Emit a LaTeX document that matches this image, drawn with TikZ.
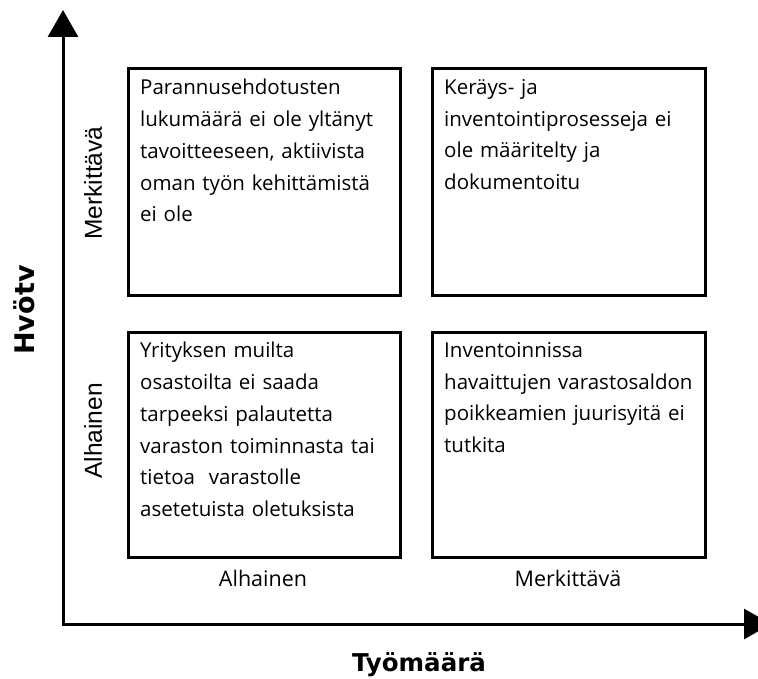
\documentclass[tikz,border=0pt]{standalone}
\usepackage{fontspec}
\setmainfont{Open Sans}
\newfontfamily\labelfont{Liberation Sans}
\newfontfamily\axisfont{DejaVu Sans}
\usetikzlibrary{arrows.meta}
\begin{document}
\begin{tikzpicture}[x=1pt,y=-1pt,
  axisline/.style={line width=3pt,-{Triangle[length=27pt,width=30pt]}},
  quad/.style={draw,line width=3pt},
  quadtext/.style={anchor=north west,align=left,text width=262pt,inner sep=0pt,
    font=\fontsize{20.5}{31.8}\selectfont},
  ticklabel/.style={inner sep=0pt,font=\fontsize{21.5}{24}\selectfont},
  vlabel/.style={inner sep=0pt,rotate=90,font=\labelfont\fontsize{24.5}{28}\selectfont},
  axislabel/.style={inner sep=0pt,font=\axisfont\bfseries\fontsize{24.5}{28}\selectfont}]
  \useasboundingbox (0,0) rectangle (758,679);
  \clip (0,0) rectangle (758,679);

  % axes
  \coordinate (O) at (63,624);
  \coordinate (ytip) at (63,10);
  \coordinate (xtip) at (771,624);
  \draw[axisline] (O) -- (ytip);
  \draw[axisline] ([xshift=-1.5pt]O) -- (xtip);

  % quadrants
  \draw[quad] (128,69) rectangle (400,295);
  \draw[quad] (432,69) rectangle (705,295);
  \draw[quad] (128,332) rectangle (400,557);
  \draw[quad] (432,332) rectangle (705,557);

  \node[quadtext] (tl) at (140,79) {Parannusehdotusten\\lukumäärä ei ole yltänyt\\tavoitteeseen, aktiivista\\oman työn kehittämistä\\ei ole};
  \node[quadtext] (tr) at (444,79) {Keräys- ja\\inventointiprosesseja ei\\ole määritelty ja\\dokumentoitu};
  \node[quadtext] (bl) at (140,342) {Yrityksen muilta\\osastoilta ei saada\\tarpeeksi palautetta\\varaston toiminnasta tai\\tietoa \ varastolle\\asetetuista oletuksista};
  \node[quadtext] (br) at (444,342) {Inventoinnissa\\havaittujen varastosaldon\\poikkeamien juurisyitä ei\\tutkita};

  % scale labels
  \node[ticklabel] (xlow) at (263,578) {Alhainen};
  \node[ticklabel] (xhigh) at (568,578) {Merkittävä};
  \node[vlabel] (yhigh) at (93,183) {Merkittävä};
  \node[vlabel] (ylow) at (93,431) {Alhainen};

  % axis titles
  \node[axislabel] (xtitle) at (419,665) {Työmäärä};
  \node[axislabel,rotate=90,font=\axisfont\bfseries\fontsize{27}{30}\selectfont] (ytitle) at (24,310) {Hvötv};
\end{tikzpicture}
\end{document}
